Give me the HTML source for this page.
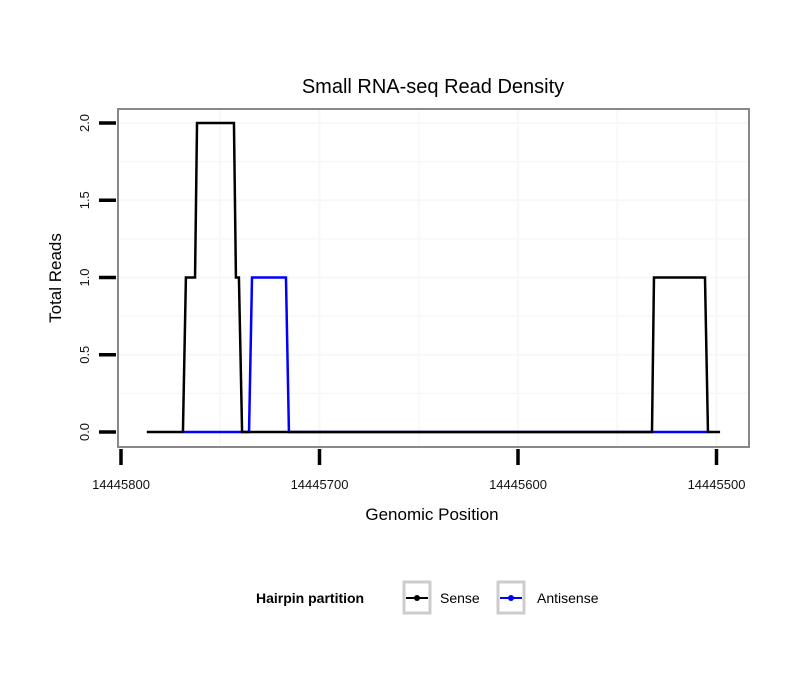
<!DOCTYPE html>
<html><head><meta charset="utf-8"><style>
body{margin:0;background:#fff;font-family:"Liberation Sans",sans-serif}
</style></head><body>
<svg width="810" height="690" xmlns="http://www.w3.org/2000/svg" font-family="Liberation Sans, sans-serif">
<text x="433" y="93" font-size="20" text-anchor="middle">Small RNA-seq Read Density</text>
<g id="grid"></g>
<g id="lines"></g>
<rect x="118" y="109" width="631" height="338" fill="none" stroke="#888" stroke-width="2"/>
<g id="axes"></g>
<text x="432" y="520" font-size="17" text-anchor="middle">Genomic Position</text>
<text transform="translate(61,278) rotate(-90)" font-size="17" text-anchor="middle">Total Reads</text>
<g>
<text x="256" y="603" font-size="14" font-weight="bold">Hairpin partition</text>
<g>
<rect x="404" y="582" width="26" height="31" fill="none" stroke="#ccc" stroke-width="3"/>
<line x1="406" y1="598" x2="428" y2="598" stroke="#000" stroke-width="2"/><circle cx="417" cy="598" r="3"/>
<text x="440" y="603" font-size="14">Sense</text></g>
<g>
<rect x="498" y="582" width="26" height="31" fill="none" stroke="#ccc" stroke-width="3"/>
<line x1="500" y1="598" x2="522" y2="598" stroke="#00f" stroke-width="2"/><circle cx="511" cy="598" r="3" fill="#00f"/>
<text x="537" y="603" font-size="14">Antisense</text></g>
</g>
</svg>
<script>
const xTicks=[14445800,14445700,14445600,14445500];
const yTicks=[0,0.5,1,1.5,2];
const sensePos=[14445787,14445768.8,14445767.3,14445762.7,14445761.7,14445743.1,14445742.1,14445740.6,14445739,14445532.5,14445531.5,14445505.8,14445504.3,14445498.2];
const senseVal=[0,0,1,1,2,2,1,1,0,0,1,1,0,0];
const antiPos=[14445768.8,14445735.5,14445734,14445716.9,14445715.4,14445504.3];
const antiVal=[0,0,1,1,0,0];
const X=p=>121+(14445800-p)*1.985;
const Y=v=>432-v*154.5;
const NS="http://www.w3.org/2000/svg";
function mk(t,a,parent){const e=document.createElementNS(NS,t);for(const k in a)e.setAttribute(k,a[k]);parent.appendChild(e);return e;}
const grid=document.getElementById('grid'),axes=document.getElementById('axes'),lines=document.getElementById('lines');
for(let v=0.25;v<=2.0;v+=0.25){const l=mk('line',{x1:118,x2:749,y1:Y(v),y2:Y(v),stroke:'#f7f7f7','stroke-width':v%0.5===0?2:1.5},grid);

}
for(let p=14445750;p>=14445500;p-=50){const l=mk('line',{x1:X(p),x2:X(p),y1:109,y2:447,stroke:'#f7f7f7','stroke-width':p%100===0?2:1.5},grid);

}
function path(pos,val,col,name){const d=pos.map((p,i)=>(i?'L':'M')+X(p)+','+Y(val[i])).join('');
const e=mk('path',{d:d,fill:'none',stroke:col,'stroke-width':2.5},lines);

}
path(antiPos,antiVal,'#0000ff','antisense-line');
path(sensePos,senseVal,'#000','sense-line');
yTicks.forEach(v=>{const t=mk('line',{x1:99,x2:116,y1:Y(v),y2:Y(v),stroke:'#000','stroke-width':3.5},axes);


const tx=mk('text',{transform:`translate(89,${Y(v)}) rotate(-90)`,'font-size':13,'text-anchor':'middle',fill:'#111'},axes);tx.textContent=v.toFixed(1);

});
xTicks.forEach(p=>{const t=mk('line',{x1:X(p),x2:X(p),y1:449,y2:465,stroke:'#000','stroke-width':3.5},axes);


const tx=mk('text',{x:X(p),y:489,'font-size':13,'text-anchor':'middle',fill:'#111'},axes);tx.textContent=p;

});
</script>
</body></html>
